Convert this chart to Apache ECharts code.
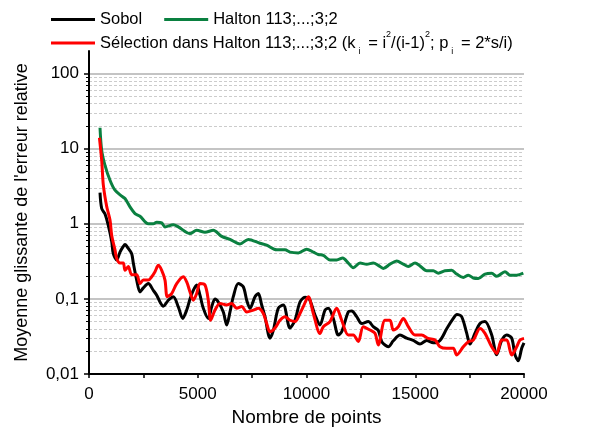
<!DOCTYPE html>
<html>
<head>
<meta charset="utf-8">
<script src="https://cdn.jsdelivr.net/npm/echarts@6/dist/echarts.min.js"></script>
<style>
  html, body { margin: 0; padding: 0; background: #fff; }
  #chart { width: 612px; height: 438px; }
</style>
</head>
<body>
<div id="chart"></div>
<script>
// moyenne glissante de l'erreur relative
const sobolX = [506, 584, 736, 887, 1044, 1117, 1274, 1425, 1577, 1655, 1807, 1963, 2037, 2193, 2345, 2497, 2726, 2956, 3113, 3264, 3416, 3646, 3876, 4106, 4308, 4492, 4644, 4795, 4952, 5103, 5255, 5485, 5641, 5793, 5945, 6175, 6331, 6483, 6634, 6864, 7094, 7251, 7402, 7632, 7784, 7940, 8092, 8322, 8474, 8703, 8933, 9241, 9471, 9701, 9931, 10129, 10391, 10621, 10851, 11002, 11232, 11462, 11618, 11922, 12078, 12308, 12538, 12841, 13071, 13301, 13457, 13609, 13761, 13991, 14299, 14607, 14911, 15218, 15526, 15830, 16138, 16446, 16749, 16918, 17133, 17365, 17517, 17747, 17977, 18207, 18515, 18745, 18975, 19205, 19435, 19586, 19738, 19894, 20000];
const sobolY = [2.6, 1.6, 1.35, 0.95, 0.58, 0.40, 0.33, 0.42, 0.50, 0.53, 0.47, 0.40, 0.30, 0.178, 0.124, 0.14, 0.16, 0.13, 0.112, 0.091, 0.080, 0.096, 0.107, 0.0785, 0.055, 0.071, 0.10, 0.13, 0.153, 0.112, 0.075, 0.055, 0.0785, 0.10, 0.091, 0.067, 0.045, 0.067, 0.107, 0.16, 0.145, 0.096, 0.075, 0.107, 0.118, 0.083, 0.058, 0.030, 0.038, 0.075, 0.083, 0.041, 0.052, 0.091, 0.105, 0.10, 0.061, 0.045, 0.071, 0.075, 0.055, 0.033, 0.0365, 0.067, 0.069, 0.058, 0.047, 0.05, 0.0426, 0.038, 0.027, 0.0243, 0.023, 0.0277, 0.033, 0.030, 0.028, 0.025, 0.028, 0.026, 0.028, 0.040, 0.055, 0.062, 0.058, 0.035, 0.025, 0.035, 0.047, 0.050, 0.033, 0.018, 0.028, 0.033, 0.030, 0.018, 0.015, 0.022, 0.026];

const haltonX = [506, 584, 736, 966, 1195, 1503, 1655, 1885, 2115, 2345, 2726, 2956, 3113, 3343, 3494, 3876, 4106, 4644, 4952, 5333, 5715, 6101, 6483, 6943, 7324, 7862, 8170, 8630, 9011, 9241, 9623, 10009, 10313, 10543, 10772, 11080, 11388, 11664, 11922, 12152, 12460, 12768, 13071, 13301, 13531, 13839, 14147, 14451, 14680, 14989, 15218, 15526, 15830, 16060, 16368, 16676, 16906, 17209, 17439, 17669, 17899, 18207, 18515, 18745, 19126, 19356, 19664, 19968];
const haltonY = [19, 9.5, 6.0, 3.8, 2.8, 2.33, 2.17, 1.68, 1.37, 1.26, 1.0, 1.0, 1.05, 1.03, 0.91, 0.97, 0.91, 0.74, 0.82, 0.77, 0.82, 0.68, 0.62, 0.54, 0.62, 0.55, 0.52, 0.45, 0.45, 0.42, 0.41, 0.46, 0.42, 0.39, 0.38, 0.33, 0.33, 0.35, 0.30, 0.26, 0.30, 0.29, 0.30, 0.28, 0.254, 0.29, 0.32, 0.29, 0.27, 0.30, 0.275, 0.237, 0.237, 0.22, 0.237, 0.24, 0.214, 0.193, 0.207, 0.19, 0.187, 0.214, 0.22, 0.20, 0.23, 0.207, 0.207, 0.22];

const selX = [480, 584, 658, 814, 966, 1044, 1195, 1274, 1425, 1577, 1655, 1807, 1963, 2193, 2345, 2497, 2726, 2883, 3034, 3186, 3343, 3494, 3600, 3802, 4032, 4336, 4492, 4644, 4795, 4952, 5103, 5333, 5485, 5595, 5793, 6023, 6331, 6561, 6791, 7021, 7251, 7554, 7784, 8014, 8170, 8322, 8552, 8782, 9011, 9241, 9471, 9701, 9853, 10083, 10313, 10621, 10772, 11080, 11388, 11618, 11922, 12152, 12382, 12612, 12919, 13149, 13301, 13609, 13839, 13991, 14221, 14451, 14680, 14989, 15296, 15600, 15908, 16138, 16446, 16749, 16906, 17209, 17439, 17669, 17977, 18207, 18515, 18745, 18975, 19205, 19435, 19664, 19816, 20000];
const selY = [14, 7.0, 3.3, 1.7, 1.12, 0.70, 0.45, 0.345, 0.30, 0.30, 0.24, 0.27, 0.21, 0.21, 0.16, 0.178, 0.178, 0.197, 0.23, 0.28, 0.24, 0.178, 0.107, 0.118, 0.16, 0.197, 0.168, 0.124, 0.096, 0.118, 0.16, 0.153, 0.096, 0.052, 0.071, 0.087, 0.083, 0.087, 0.075, 0.079, 0.067, 0.071, 0.075, 0.064, 0.047, 0.0365, 0.041, 0.052, 0.058, 0.052, 0.05, 0.064, 0.079, 0.107, 0.064, 0.0345, 0.0426, 0.05, 0.075, 0.052, 0.033, 0.033, 0.027, 0.0426, 0.0385, 0.0348, 0.0243, 0.052, 0.052, 0.0385, 0.0426, 0.055, 0.0426, 0.033, 0.033, 0.0298, 0.0283, 0.0231, 0.022, 0.022, 0.0179, 0.023, 0.0269, 0.0283, 0.0405, 0.0348, 0.023, 0.0188, 0.0283, 0.0283, 0.0179, 0.023, 0.0283, 0.0298];

const yMajor = [0.01, 0.1, 1, 10, 100];
const yMinor = [0.02, 0.03, 0.04, 0.05, 0.06, 0.07, 0.08, 0.09,
                0.2, 0.3, 0.4, 0.5, 0.6, 0.7, 0.8, 0.9,
                2, 3, 4, 5, 6, 7, 8, 9,
                20, 30, 40, 50, 60, 70, 80, 90];
const xLabels = [0, 5000, 10000, 15000, 20000];

const NAME_SOBOL = 'Sobol';
const NAME_HALTON = 'Halton 113;...;3;2';
const NAME_SEL = 'Sélection dans Halton 113;...;3;2';

const FONT = 'Liberation Sans, Arial, sans-serif';

const zip = (xs, ys) => xs.map((x, i) => [x, ys[i]]);
const fmtY = v => String(Number(v.toPrecision(3))).replace('.', ',');

const chart = echarts.init(document.getElementById('chart'), null, {renderer: 'canvas'});

const option = {
    animation: false,
    backgroundColor: '#fff',
    textStyle: {fontFamily: FONT},
    grid: {left: 89, right: 88, top: 51, bottom: 64},
    legend: [{
        data: [NAME_SOBOL, NAME_HALTON],
        left: 46, top: 6,
        icon: 'rect', itemWidth: 44, itemHeight: 3, itemGap: 22,
        textStyle: {fontSize: 16.5, color: '#000', fontFamily: FONT}
    }, {
        data: [NAME_SEL],
        left: 46, top: 25,
        icon: 'rect', itemWidth: 44, itemHeight: 3,
        formatter: () => '{t|Sélection dans Halton 113;...;3;2 (k}{sub|i}{t| = i}{sup|2}{t|/(i-1)}{sup|2}{t|; p}{sub|i}{t| = 2*s/i)}',
        textStyle: {
            fontSize: 16.5, color: '#000', fontFamily: FONT,
            rich: {
                t: {fontSize: 16.5, fontFamily: FONT, color: '#000', lineHeight: 26},
                sub: {fontSize: 9, fontFamily: FONT, color: '#000', verticalAlign: 'bottom', padding: [0, 3, 0, 3], lineHeight: 26},
                sup: {fontSize: 9, fontFamily: FONT, color: '#000', verticalAlign: 'top', lineHeight: 26}
            }
        }
    }],
    xAxis: {
        type: 'value', min: 0, max: 20000, interval: 2500,
        name: 'Nombre de points', nameLocation: 'middle', nameGap: 33,
        nameTextStyle: {fontSize: 19, color: '#000', fontFamily: FONT},
        axisLine: {lineStyle: {color: '#000', width: 2}},
        axisTick: {length: 4, lineStyle: {color: '#000', width: 1.5}},
        axisLabel: {
            fontSize: 17, color: '#000', margin: 12, fontFamily: FONT,
            formatter: v => xLabels.indexOf(v) >= 0 ? String(v) : ''
        },
        splitLine: {show: false}
    },
    yAxis: [{
        type: 'log', logBase: 10, min: 0.01, max: 200,
        name: "Moyenne glissante de l'erreur relative", nameLocation: 'middle', nameGap: 58,
        nameTextStyle: {fontSize: 18, color: '#000', fontFamily: FONT},
        axisLine: {lineStyle: {color: '#000', width: 2}},
        axisTick: {length: 5, customValues: yMajor, lineStyle: {color: '#000', width: 1.5}},
        axisLabel: {fontSize: 17, color: '#000', margin: 10, customValues: yMajor, formatter: fmtY, fontFamily: FONT},
        splitLine: {show: false}
    }, {
        type: 'log', logBase: 10, min: 0.01, max: 200, position: 'left', offset: 0,
        axisLine: {show: false},
        axisTick: {length: 3, customValues: yMinor, lineStyle: {color: '#000', width: 1}},
        axisLabel: {show: false},
        splitLine: {show: false}
    }],
    series: [{
        name: 'grille', type: 'line', data: [], silent: true, z: 0,
        markLine: {
            silent: true, symbol: ['none', 'none'], label: {show: false},
            animation: false, z: 0,
            data: yMinor.map(v => ({yAxis: v, lineStyle: {color: '#cccccc', width: 1, type: [3, 2]}}))
                .concat(yMajor.slice(1).map(v => ({yAxis: v, lineStyle: {color: '#b0b0b0', width: 1.5, type: 'solid'}})))
        }
    }, {
        name: NAME_SOBOL, type: 'line', data: zip(sobolX, sobolY), z: 5,
        showSymbol: false, smooth: 0.3, lineStyle: {color: '#000', width: 3}, itemStyle: {color: '#000'}
    }, {
        name: NAME_HALTON, type: 'line', data: zip(haltonX, haltonY), z: 5,
        showSymbol: false, smooth: 0.3, lineStyle: {color: '#0a8040', width: 3}, itemStyle: {color: '#0a8040'}
    }, {
        name: NAME_SEL, type: 'line', data: zip(selX, selY), z: 5,
        showSymbol: false, smooth: 0.3, lineStyle: {color: '#ff0000', width: 3}, itemStyle: {color: '#ff0000'}
    }]
};

chart.setOption(option);
</script>
</body>
</html>
